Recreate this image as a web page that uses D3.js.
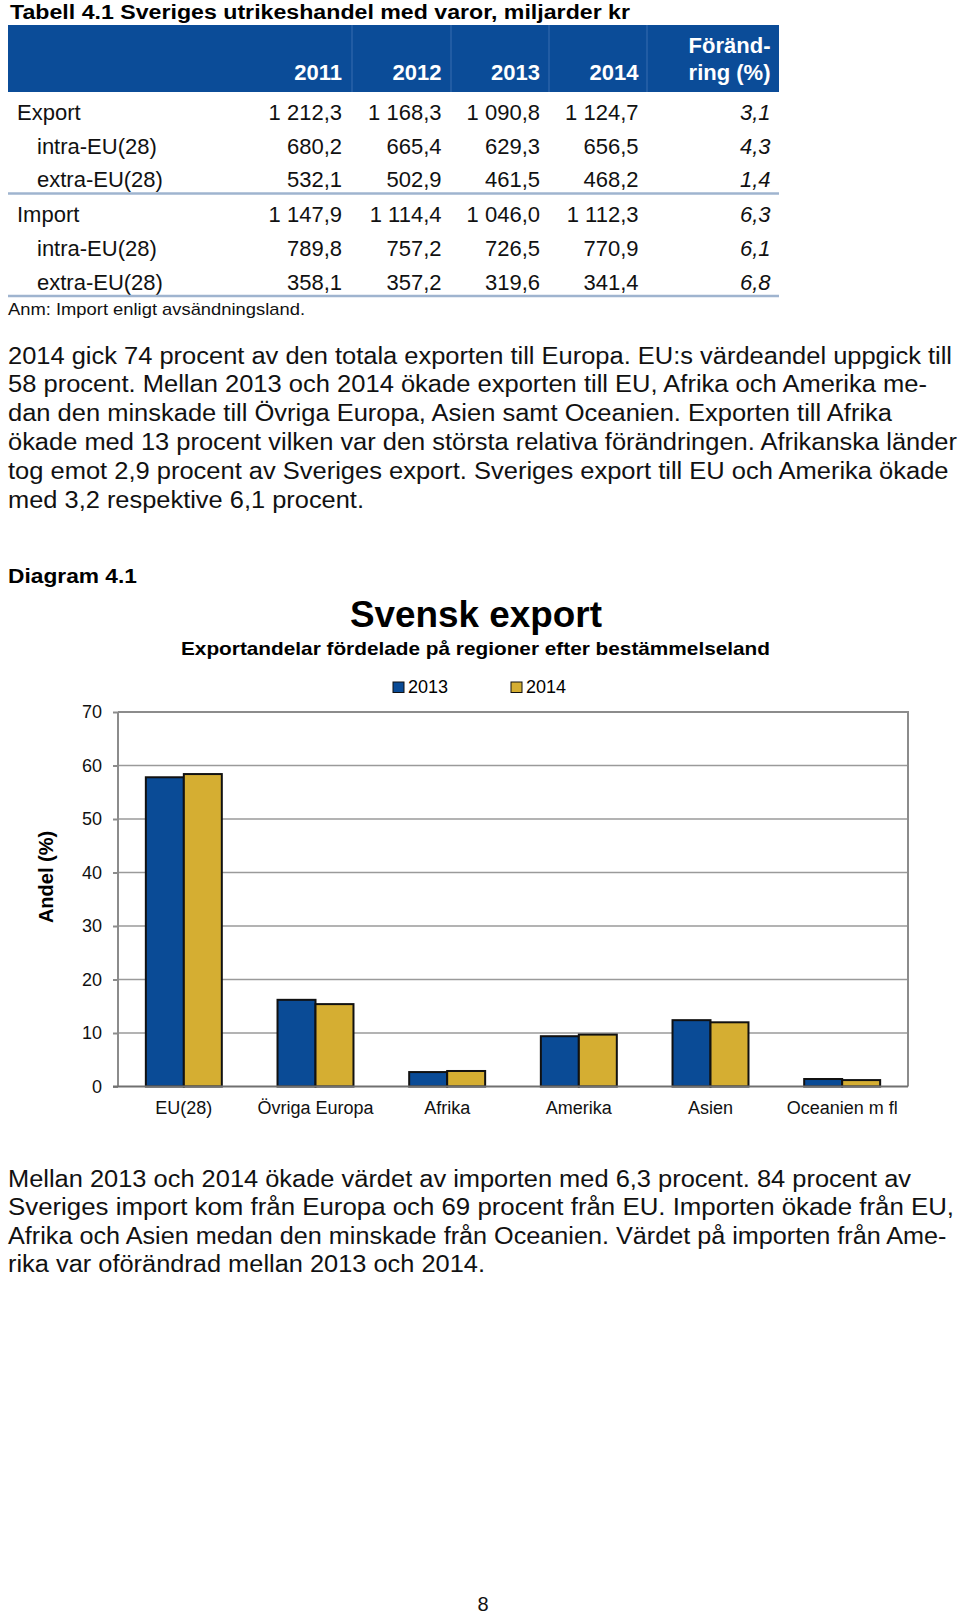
<!DOCTYPE html>
<html>
<head>
<meta charset="utf-8">
<script src="https://cdn.jsdelivr.net/npm/d3@7/dist/d3.min.js"></script>
<style>
  html, body { margin: 0; padding: 0; background: #fff; }
  svg { display: block; }
  text { font-family: "Liberation Sans", Arial, Helvetica, sans-serif; }
</style>
</head>
<body>
<svg id="page" width="960" height="1617"></svg>
<script>
// ---------- DATA ----------
const tableTitle = "Tabell 4.1 Sveriges utrikeshandel med varor, miljarder kr";
const years = ["2011", "2012", "2013", "2014"];
const changeHeader = ["Föränd-", "ring (%)"];
const rowLabels = ["Export", "intra-EU(28)", "extra-EU(28)", "Import", "intra-EU(28)", "extra-EU(28)"];
const rowIndent = [false, true, true, false, true, true];
const val2011 = [1212.3, 680.2, 532.1, 1147.9, 789.8, 358.1];
const val2012 = [1168.3, 665.4, 502.9, 1114.4, 757.2, 357.2];
const val2013 = [1090.8, 629.3, 461.5, 1046.0, 726.5, 319.6];
const val2014 = [1124.7, 656.5, 468.2, 1112.3, 770.9, 341.4];
const changePct = [3.1, 4.3, 1.4, 6.3, 6.1, 6.8];
const tableNote = "Anm: Import enligt avsändningsland.";

const para1 = [
  "2014 gick 74 procent av den totala exporten till Europa. EU:s värdeandel uppgick till",
  "58 procent. Mellan 2013 och 2014 ökade exporten till EU, Afrika och Amerika me-",
  "dan den minskade till Övriga Europa, Asien samt Oceanien. Exporten till Afrika",
  "ökade med 13 procent vilken var den största relativa förändringen. Afrikanska länder",
  "tog emot 2,9 procent av Sveriges export. Sveriges export till EU och Amerika ökade",
  "med 3,2 respektive 6,1 procent."
];
const para2 = [
  "Mellan 2013 och 2014 ökade värdet av importen med 6,3 procent. 84 procent av",
  "Sveriges import kom från Europa och 69 procent från EU. Importen ökade från EU,",
  "Afrika och Asien medan den minskade från Oceanien. Värdet på importen från Ame-",
  "rika var oförändrad mellan 2013 och 2014."
];

const diagramLabel = "Diagram 4.1";
const chartTitle = "Svensk export";
const chartSubtitle = "Exportandelar fördelade på regioner efter bestämmelseland";
const yAxisTitle = "Andel (%)";
const seriesNames = ["2013", "2014"];
const regions = ["EU(28)", "Övriga Europa", "Afrika", "Amerika", "Asien", "Oceanien m fl"];
const share2013 = [57.8, 16.2, 2.7, 9.4, 12.4, 1.4];
const share2014 = [58.4, 15.4, 2.9, 9.7, 12.0, 1.2];
const yTicks = [0, 10, 20, 30, 40, 50, 60, 70];
const pageNumber = "8";

// ---------- STYLE / LAYOUT ----------
const BLUE = "#0a4b96";
const GOLD = "#d5ae32";
const HEADER_BLUE = "#0b4c98";
const RULE = "#9fb4cf";
const FONT = 22;

const svg = d3.select("#page");
svg.append("rect").attr("width", 960).attr("height", 1617).attr("fill", "#fff");

// ---------- TABLE ----------
svg.append("text").attr("x", 10).attr("y", 18.5)
  .attr("font-size", 19.5).attr("font-weight", "bold")
  .attr("textLength", 620).attr("lengthAdjust", "spacingAndGlyphs")
  .text(tableTitle);

svg.append("rect").attr("x", 8).attr("y", 25).attr("width", 771).attr("height", 67).attr("fill", HEADER_BLUE);
[352, 451, 549, 647].forEach(x => {
  svg.append("line").attr("x1", x).attr("x2", x).attr("y1", 25).attr("y2", 92)
    .attr("stroke", "#2a62a8").attr("stroke-width", 1.5);
});

const colRight = [342, 441.5, 540, 638.5, 770.5];
years.forEach((y, i) => {
  svg.append("text").attr("x", colRight[i]).attr("y", 80)
    .attr("text-anchor", "end").attr("font-size", FONT).attr("font-weight", "bold")
    .attr("fill", "#fff").text(y);
});
changeHeader.forEach((t, i) => {
  svg.append("text").attr("x", colRight[4]).attr("y", 53 + i * 27)
    .attr("text-anchor", "end").attr("font-size", FONT).attr("font-weight", "bold")
    .attr("fill", "#fff").text(t);
});

const sv = d3.formatLocale({ decimal: ",", thousands: "\u00a0", grouping: [3], currency: ["", " kr"] });
const fmtVal = v => sv.format(",.1f")(v).replace(/\u00a0/g, " ");
const fmtPct = sv.format(".1f");

const rowBase = [120, 153.5, 187, 222, 256, 290];
const cols = [val2011, val2012, val2013, val2014];
rowLabels.forEach((lab, r) => {
  svg.append("text").attr("x", rowIndent[r] ? 37 : 17).attr("y", rowBase[r])
    .attr("font-size", FONT).attr("fill", "#111").text(lab);
  cols.forEach((c, ci) => {
    svg.append("text").attr("x", colRight[ci]).attr("y", rowBase[r])
      .attr("text-anchor", "end").attr("font-size", FONT).attr("fill", "#111")
      .attr("xml:space", "preserve")
      .text(fmtVal(c[r]));
  });
  svg.append("text").attr("x", colRight[4]).attr("y", rowBase[r])
    .attr("text-anchor", "end").attr("font-size", FONT).attr("font-style", "italic")
    .attr("fill", "#111").text(fmtPct(changePct[r]));
});
[193.5, 296].forEach(y => {
  svg.append("line").attr("x1", 8).attr("x2", 779).attr("y1", y).attr("y2", y)
    .attr("stroke", RULE).attr("stroke-width", 2.5);
});
svg.append("text").attr("x", 8).attr("y", 315).attr("font-size", 17).attr("fill", "#111")
  .attr("textLength", 297).attr("lengthAdjust", "spacingAndGlyphs").text(tableNote);

// ---------- PARAGRAPHS ----------
const p1Base = [363.5, 392, 421, 450, 479, 508];
const p1Right = [952, 927, 892, 957, 948.5, 364];
para1.forEach((t, i) => {
  svg.append("text").attr("x", 8).attr("y", p1Base[i]).attr("font-size", 23).attr("fill", "#111")
    .attr("textLength", p1Right[i] - 8).attr("lengthAdjust", "spacingAndGlyphs").text(t);
});
const p2Base = [1186.5, 1215, 1243.5, 1272];
const p2Right = [911, 954, 946.5, 485];
para2.forEach((t, i) => {
  svg.append("text").attr("x", 8).attr("y", p2Base[i]).attr("font-size", 23).attr("fill", "#111")
    .attr("textLength", p2Right[i] - 8).attr("lengthAdjust", "spacingAndGlyphs").text(t);
});

// ---------- CHART ----------
svg.append("text").attr("x", 8).attr("y", 583).attr("font-size", 21).attr("font-weight", "bold")
  .attr("textLength", 129).attr("lengthAdjust", "spacingAndGlyphs").text(diagramLabel);
svg.append("text").attr("x", 476).attr("y", 627).attr("text-anchor", "middle")
  .attr("font-size", 36).attr("font-weight", "bold")
  .attr("textLength", 252).attr("lengthAdjust", "spacingAndGlyphs").text(chartTitle);
svg.append("text").attr("x", 475.5).attr("y", 655).attr("text-anchor", "middle")
  .attr("font-size", 19).attr("font-weight", "bold")
  .attr("textLength", 589).attr("lengthAdjust", "spacingAndGlyphs").text(chartSubtitle);

const plot = { left: 118, right: 908, top: 712, bottom: 1086.5 };
const y = d3.scaleLinear().domain([0, 70]).range([plot.bottom, plot.top]);
const x = d3.scaleBand().domain(regions).range([plot.left, plot.right])
  .paddingInner(0.423).paddingOuter(0.2115);
const xs = d3.scaleBand().domain(seriesNames).range([0, x.bandwidth()]);
const color = d3.scaleOrdinal().domain(seriesNames).range([BLUE, GOLD]);

// legend
const legendX = { "2013": 393, "2014": 511 };
seriesNames.forEach(s => {
  svg.append("rect").attr("x", legendX[s]).attr("y", 682).attr("width", 11).attr("height", 10.5)
    .attr("fill", color(s)).attr("stroke", "#111").attr("stroke-width", 1);
  svg.append("text").attr("x", legendX[s] + 15).attr("y", 693).attr("font-size", 18).text(s);
});

// gridlines + y axis
const yAxis = d3.axisLeft(y).tickValues(yTicks).tickSize(5).tickPadding(11).tickFormat(d3.format("d"));
const gy = svg.append("g").attr("transform", `translate(${plot.left},0)`).call(yAxis);
gy.select(".domain").remove();
gy.selectAll(".tick line").attr("stroke", "#8c8c8c").attr("stroke-width", 2);
gy.selectAll(".tick text").attr("font-size", 18).attr("fill", "#111")
  .attr("font-family", '"Liberation Sans", Arial, sans-serif').attr("dy", "0.33em");

svg.append("g").selectAll("line").data(yTicks.filter(d => d > 0 && d < 70)).join("line")
  .attr("x1", plot.left).attr("x2", plot.right)
  .attr("y1", d => y(d)).attr("y2", d => y(d))
  .attr("stroke", "#9a9a9a").attr("stroke-width", 1.5);

// plot border (top, right), left axis
svg.append("path")
  .attr("d", `M${plot.left},${plot.top}H${plot.right}V${plot.bottom}`)
  .attr("fill", "none").attr("stroke", "#8c8c8c").attr("stroke-width", 2);
svg.append("line").attr("x1", plot.left).attr("x2", plot.left).attr("y1", plot.top).attr("y2", plot.bottom)
  .attr("stroke", "#8c8c8c").attr("stroke-width", 2);

// bars
const barData = [];
regions.forEach((r, i) => {
  barData.push({ region: r, series: "2013", value: share2013[i] });
  barData.push({ region: r, series: "2014", value: share2014[i] });
});
svg.append("g").selectAll("rect").data(barData).join("rect")
  .attr("x", d => x(d.region) + xs(d.series))
  .attr("y", d => y(d.value))
  .attr("width", xs.bandwidth())
  .attr("height", d => y(0) - y(d.value))
  .attr("fill", d => color(d.series))
  .attr("stroke", "#111").attr("stroke-width", 2);

// bottom axis line
svg.append("line").attr("x1", plot.left - 5).attr("x2", plot.right).attr("y1", plot.bottom).attr("y2", plot.bottom)
  .attr("stroke", "#707070").attr("stroke-width", 2);

// x axis labels
const xAxis = d3.axisBottom(x).tickSize(0).tickPadding(0);
const gx = svg.append("g").attr("transform", `translate(0,${plot.bottom})`).call(xAxis);
gx.select(".domain").remove();
gx.selectAll(".tick text").attr("font-size", 18).attr("fill", "#111")
  .attr("font-family", '"Liberation Sans", Arial, sans-serif')
  .attr("dy", null).attr("y", 27);

// y axis title
svg.append("text").attr("transform", "translate(53,877) rotate(-90)")
  .attr("text-anchor", "middle").attr("font-size", 20).attr("font-weight", "bold")
  .text(yAxisTitle);

// page number
svg.append("text").attr("x", 483).attr("y", 1611).attr("text-anchor", "middle")
  .attr("font-size", 20).attr("fill", "#111").text(pageNumber);
</script>
</body>
</html>
